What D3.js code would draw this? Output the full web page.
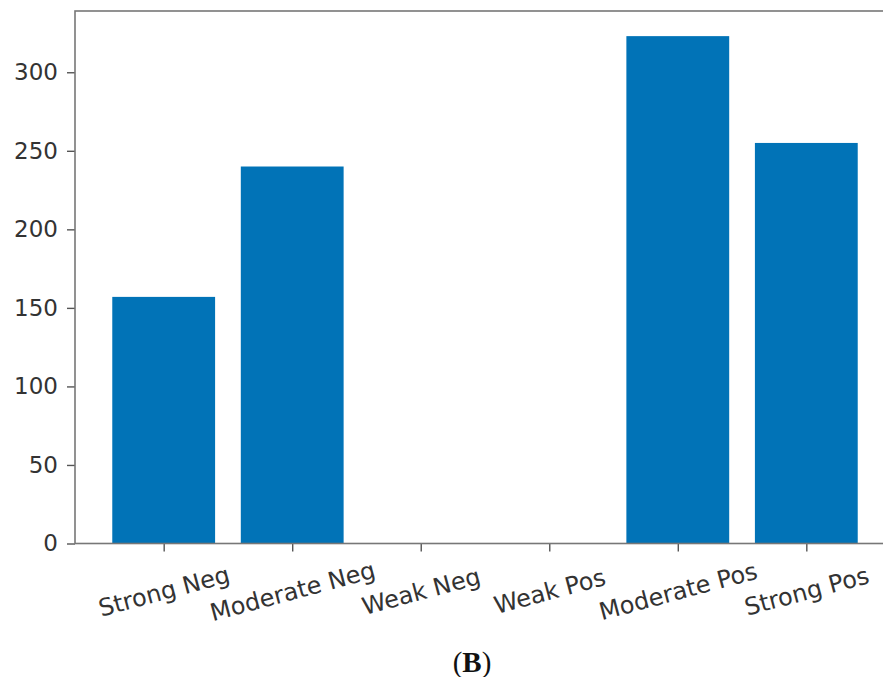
<!DOCTYPE html>
<meta charset="utf-8">
<body style="margin:0;background:#fff">
<script src="https://d3js.org/d3.v7.min.js"></script>
<style>
  body { font-family: "DejaVu Sans", sans-serif; }
  .tick text { fill: #333; font-size: 23px; font-family: "DejaVu Sans", sans-serif; }
  .x-axis .tick text { font-size: 24px; }
</style>
<div id="chart"></div>
<script>
// data
var categories = ["Strong Neg", "Moderate Neg", "Weak Neg", "Weak Pos", "Moderate Pos", "Strong Pos"];
var counts = [157, 240, 0, 0, 323, 255];
var yTicks = [0, 50, 100, 150, 200, 250, 300];
var panelLabel = "B";

var width = 883, height = 677;
var plot = {left: 75, top: 11, bottom: 543.5, right: 895};

var svg = d3.select("#chart").append("svg")
    .attr("width", width)
    .attr("height", height);

// index scale, matplotlib style margins around bars of width 0.8
var x = d3.scaleLinear()
    .domain([-0.69, categories.length - 1 + 0.69])
    .range([plot.left, plot.right]);

var y = d3.scaleLinear()
    .domain([0, 339])
    .range([plot.bottom, plot.top]);

var barWidth = 0.8;

// bars
svg.append("g")
  .selectAll("rect")
  .data(counts)
  .enter().append("rect")
    .attr("x", function(d, i) { return x(i - barWidth / 2); })
    .attr("width", function(d, i) { return x(i + barWidth / 2) - x(i - barWidth / 2); })
    .attr("y", function(d) { return y(d); })
    .attr("height", function(d) { return y(0) - y(d); })
    .attr("fill", "#0173b7");

// y axis
var yAxis = svg.append("g")
    .attr("transform", "translate(" + plot.left + ",0)")
    .call(d3.axisLeft(y).tickValues(yTicks).tickSize(8).tickPadding(9));
yAxis.select(".domain").remove();
yAxis.selectAll(".tick line").attr("stroke", "#555").attr("stroke-width", 1.4);

// x axis
var xAxis = svg.append("g")
    .attr("class", "x-axis")
    .attr("transform", "translate(0," + plot.bottom + ")")
    .call(d3.axisBottom(x).tickValues(d3.range(categories.length)).tickSize(8)
      .tickFormat(function(i) { return categories[i]; }));
xAxis.select(".domain").remove();
xAxis.selectAll(".tick line").attr("stroke", "#555").attr("stroke-width", 1.4);
xAxis.selectAll(".tick text")
    .attr("y", 0)
    .attr("dy", 0)
    .attr("text-anchor", "middle")
    .attr("dominant-baseline", "central")
    .attr("transform", "translate(0,48) rotate(-15)");

// frame
svg.append("rect")
    .attr("x", plot.left)
    .attr("y", plot.top)
    .attr("width", plot.right - plot.left)
    .attr("height", plot.bottom - plot.top)
    .attr("fill", "none")
    .attr("stroke", "#777")
    .attr("stroke-width", 1.6);

// panel label
var lbl = svg.append("text")
    .attr("x", 472)
    .attr("y", 672)
    .attr("text-anchor", "middle")
    .style("font-family", "'Liberation Serif', serif")
    .style("font-size", "29px")
    .style("fill", "#111");
lbl.append("tspan").text("(");
lbl.append("tspan").style("font-weight", "bold").text(panelLabel);
lbl.append("tspan").text(")");
</script>
